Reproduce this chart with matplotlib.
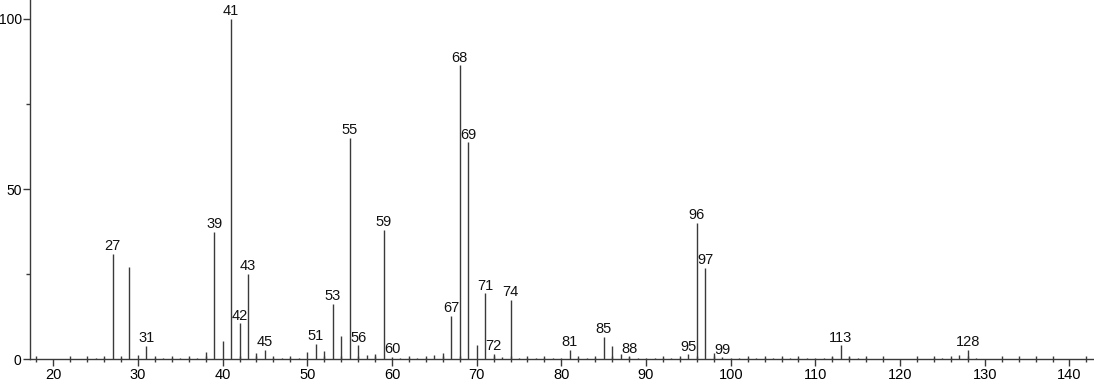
import matplotlib.pyplot as plt
from matplotlib.ticker import MultipleLocator

plt.rcParams["font.family"] = ["Liberation Sans", "DejaVu Sans"]

# m/z values and relative intensities
mz = [25, 26, 27, 28, 29, 30, 31, 32, 33, 34, 35, 36, 37, 38, 39, 40,
      41, 42, 43, 44, 45, 46, 47, 48, 49, 50, 51, 52, 53, 54, 55, 56,
      57, 58, 59, 60, 61, 62, 63, 64, 65, 66, 67, 68, 69, 70, 71, 72,
      73, 74, 75, 76, 77, 78, 79, 80, 81, 82, 83, 84, 85, 86, 87, 88,
      89, 90, 91, 92, 93, 94, 95, 96, 97, 98, 99, 100, 101, 102, 103,
      104, 105, 106, 107, 108, 109, 110, 111, 112, 113, 114, 115, 116,
      124, 125, 126, 127, 128, 129]
intensity = [0.4, 0.3, 31.0, 0.5, 27.0, 1.2, 3.9, 0.3, 0.5, 0.4, 0.5, 0.4, 0.3, 2.2, 37.5, 5.5,
             100.0, 10.6, 25.0, 1.8, 2.7, 0.5, 0.4, 0.5, 0.4, 2.2, 4.5, 2.4, 16.2, 6.8, 65.0, 4.1,
             1.2, 1.6, 38.0, 0.8, 0.4, 0.3, 0.4, 0.3, 1.4, 1.8, 12.7, 86.3, 63.7, 4.2, 19.4, 1.6,
             0.7, 17.4, 0.4, 0.5, 0.3, 0.4, 0.3, 0.4, 2.7, 0.4, 0.5, 0.4, 6.6, 4.0, 1.6, 0.7,
             0.4, 0.3, 0.4, 0.3, 0.4, 0.5, 1.5, 40.1, 26.9, 1.8, 0.6, 0.4, 0.3, 0.4, 0.3,
             0.3, 0.4, 0.3, 0.3, 0.4, 0.3, 0.3, 0.5, 0.6, 4.1, 0.6, 0.4, 0.3,
             0.4, 0.5, 0.4, 1.3, 2.7, 0.4]

# peaks that carry a label
labelled = [27, 31, 39, 41, 42, 43, 45, 51, 53, 55, 56, 59, 60, 67, 68, 69,
            71, 72, 74, 81, 85, 88, 95, 96, 97, 99, 113, 128]

fig = plt.figure(figsize=(10.94, 3.84), dpi=100)
ax = fig.add_axes([0.0274, 0.0643, 0.9726, 0.9357])

line_color = "#3a3a3a"
ax.vlines(mz, 0, intensity, color=line_color, linewidth=1.0)

for m, h in zip(mz, intensity):
    if m in labelled:
        ax.annotate(str(m), (m, h), xytext=(0, 0.5), textcoords="offset points",
                    ha="center", va="bottom", fontsize=10.5, color="#111111")

ax.set_xlim(17.25, 142.9)
ax.set_ylim(0, 105.5)

ax.xaxis.set_major_locator(MultipleLocator(10))
ax.xaxis.set_minor_locator(MultipleLocator(2))
ax.yaxis.set_major_locator(MultipleLocator(50))
ax.yaxis.set_minor_locator(MultipleLocator(25))

ax.spines["top"].set_visible(False)
ax.spines["right"].set_visible(False)
for side in ["left", "bottom"]:
    ax.spines[side].set_color(line_color)
    ax.spines[side].set_linewidth(1.0)

ax.tick_params(axis="both", which="major", direction="out", length=5,
               width=1.0, color=line_color, labelsize=10.5, pad=1.5)
ax.tick_params(axis="y", which="major", labelsize=10, pad=1)
ax.tick_params(axis="x", which="minor", direction="inout", length=5,
               width=1.0, color=line_color)
ax.tick_params(axis="y", which="minor", direction="out", length=3,
               width=1.0, color=line_color)

fig.savefig("out.png", dpi=100)
